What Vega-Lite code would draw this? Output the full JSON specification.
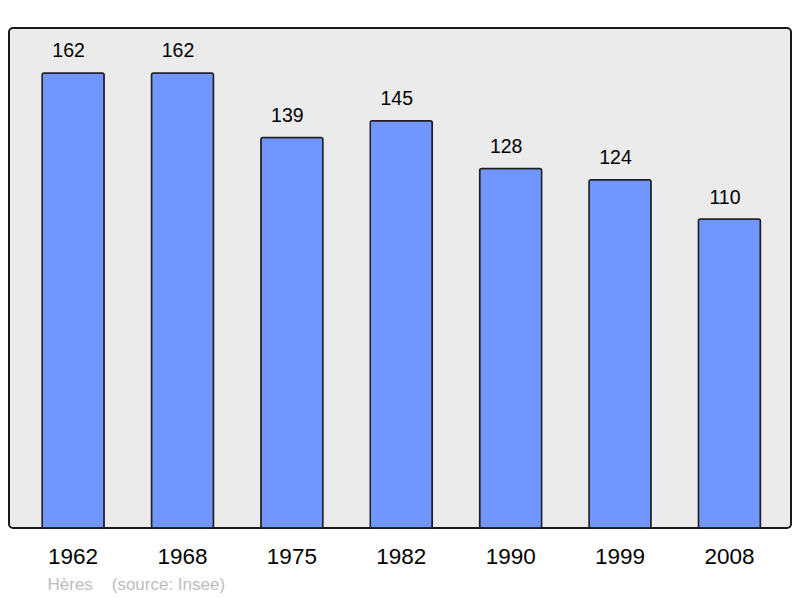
{
  "$schema": "https://vega.github.io/schema/vega-lite/v6.json",
  "width": 782,
  "height": 500,
  "autosize": {"type": "none"},
  "padding": {"left": 9, "top": 28, "right": 9, "bottom": 70},
  "background": "white",
  "config": {
    "view": {"fill": "#ebebeb", "stroke": "#1a1a1a", "strokeWidth": 2, "cornerRadius": 4},
    "font": "Liberation Sans"
  },
  "data": {
    "values": [
      {"year": "1962", "pop": 162},
      {"year": "1968", "pop": 162},
      {"year": "1975", "pop": 139},
      {"year": "1982", "pop": 145},
      {"year": "1990", "pop": 128},
      {"year": "1999", "pop": 124},
      {"year": "2008", "pop": 110}
    ]
  },
  "encoding": {
    "x": {
      "field": "year",
      "type": "ordinal",
      "sort": null,
      "scale": {"paddingInner": 0.433, "paddingOuter": 0.291, "align": 0.52},
      "axis": {
        "domain": false,
        "ticks": false,
        "tickSize": 0,
        "labelAngle": 0,
        "labelFontSize": 22.5,
        "labelColor": "#000000",
        "labelBaseline": "alphabetic",
        "labelPadding": 35,
        "title": "Hères\u00a0\u00a0\u00a0\u00a0(source: Insee)",
        "titleX": 38,
        "titleY": 61,
        "titleAlign": "left",
        "titleAnchor": "start",
        "titleBaseline": "alphabetic",
        "titleFontSize": 17,
        "titleFontWeight": "normal",
        "titleColor": "#bdbdbd"
      }
    },
    "y": {
      "field": "pop",
      "type": "quantitative",
      "scale": {"domain": [0, 178], "nice": false},
      "axis": null
    }
  },
  "layer": [
    {
      "mark": {"type": "bar", "fill": "#7196ff", "stroke": "#1f1f1f", "strokeWidth": 1.5, "cornerRadius": 2}
    },
    {
      "mark": {"type": "text", "dx": -4.5, "dy": -15.5, "baseline": "alphabetic", "fontSize": 19.5, "color": "#000000"},
      "encoding": {"text": {"field": "pop", "type": "quantitative"}}
    }
  ]
}
